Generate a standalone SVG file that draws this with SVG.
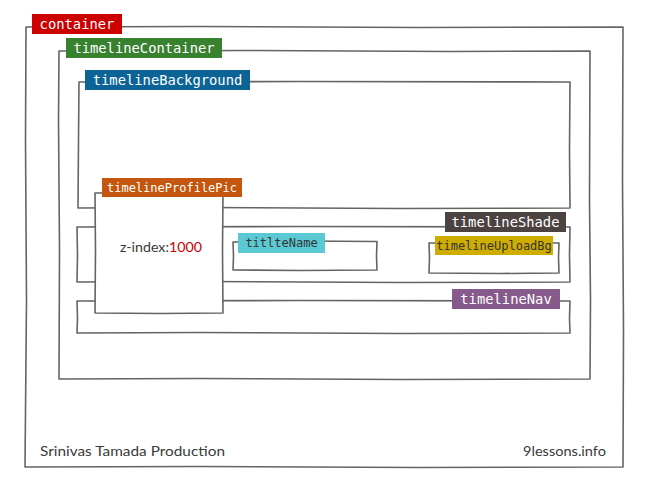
<svg xmlns="http://www.w3.org/2000/svg" width="651" height="489" viewBox="0 0 651 489">
<style>
.box{fill:none;stroke:#646464;stroke-width:1.6;stroke-linejoin:round;stroke-linecap:round}
.wbox{fill:#fff;stroke:#646464;stroke-width:1.6;stroke-linejoin:round}
.lbl{font-family:"DejaVu Sans Mono","Liberation Mono",monospace;font-size:13.8px;fill:#fff;text-anchor:middle}
.lbl.sm{font-size:12px}
.dark{fill:#333}
.body{font-family:"Lato","Open Sans","Liberation Sans",sans-serif;font-size:14px;fill:#3a3a3a}
</style>
<rect width="651" height="489" fill="#fff"/>
<g id="container">
<path class="box" d="M26,27 L200,26.5 L420,27.5 L623,27 L622.5,180 L623.5,330 L623,467 L420,467.5 L200,466.5 L25,467 L26.5,300 L25.5,140 Z"/>
<rect x="32" y="14" width="90" height="20" fill="#cc0000"/>
<text class="lbl" x="77" y="28.5">container</text>
</g>
<g id="timelineContainer">
<path class="box" d="M59,51 L250,50.5 L450,51.5 L590,51 L589.5,200 L590.5,300 L590,379 L400,379.5 L200,378.5 L59,379 L59.5,250 L58.5,120 Z"/>
<rect x="66" y="38" width="156" height="20" fill="#37812f"/>
<text class="lbl" x="144" y="52.5">timelineContainer</text>
</g>
<g id="timelineBackground">
<path class="box" d="M79,82 L300,81.5 L570,82 L569.5,150 L570,208 L400,208.5 L200,207.5 L78,208 L78.5,140 Z"/>
<rect x="85" y="70" width="165" height="20" fill="#0c6496"/>
<text class="lbl" x="167.5" y="84.5">timelineBackground</text>
</g>
<g id="timelineShade">
<path class="box" d="M77,227 L300,226.5 L570,227 L569.5,255 L570,282 L400,282.5 L200,281.5 L77,282 L77.5,255 Z"/>
<rect x="445" y="212" width="121" height="20" fill="#4d4242"/>
<text class="lbl" x="505.5" y="226.5">timelineShade</text>
</g>
<g id="timelineNav">
<path class="box" d="M77,301 L300,300.5 L570,301 L569.5,318 L570,333 L400,333.5 L200,332.5 L77,333 L77.5,318 Z"/>
<rect x="452" y="289" width="108" height="20" fill="#865a8b"/>
<text class="lbl" x="506" y="303.5">timelineNav</text>
</g>
<g id="titleName">
<path class="box" d="M233,242 L300,241 L377,241.5 L376.5,256 L377,270 L300,270.5 L233,270 L233.5,256 Z"/>
<rect x="238" y="233" width="87" height="20" fill="#5bc9d3"/>
<text class="lbl sm dark" x="281.5" y="247">titlteName</text>
</g>
<g id="timelineUploadBg">
<path class="box" d="M429,243 L500,242.5 L559,243 L558.5,258 L559,273 L500,273.5 L429,273 L429.5,258 Z"/>
<rect x="435" y="236" width="118" height="19" fill="#cfad00"/>
<text class="lbl sm dark" x="494" y="250">timelineUploadBg</text>
</g>
<g id="timelineProfilePic">
<path class="wbox" d="M95,193 L160,192.5 L223,193 L222.5,250 L223,313 L160,313.5 L95,313 L95.5,250 Z"/>
<rect x="102" y="178" width="140" height="19" fill="#c4560d"/>
<text class="lbl sm" x="172" y="192">timelineProfilePic</text>
<text class="body" x="120" y="252" textLength="82" lengthAdjust="spacingAndGlyphs">z-index:<tspan fill="#cc0000">1000</tspan></text>
</g>
<g id="footer">
<text class="body" x="40" y="456" textLength="185" lengthAdjust="spacingAndGlyphs">Srinivas Tamada Production</text>
<text class="body" x="606" y="456" text-anchor="end" textLength="83" lengthAdjust="spacingAndGlyphs">9lessons.info</text>
</g>
</svg>
